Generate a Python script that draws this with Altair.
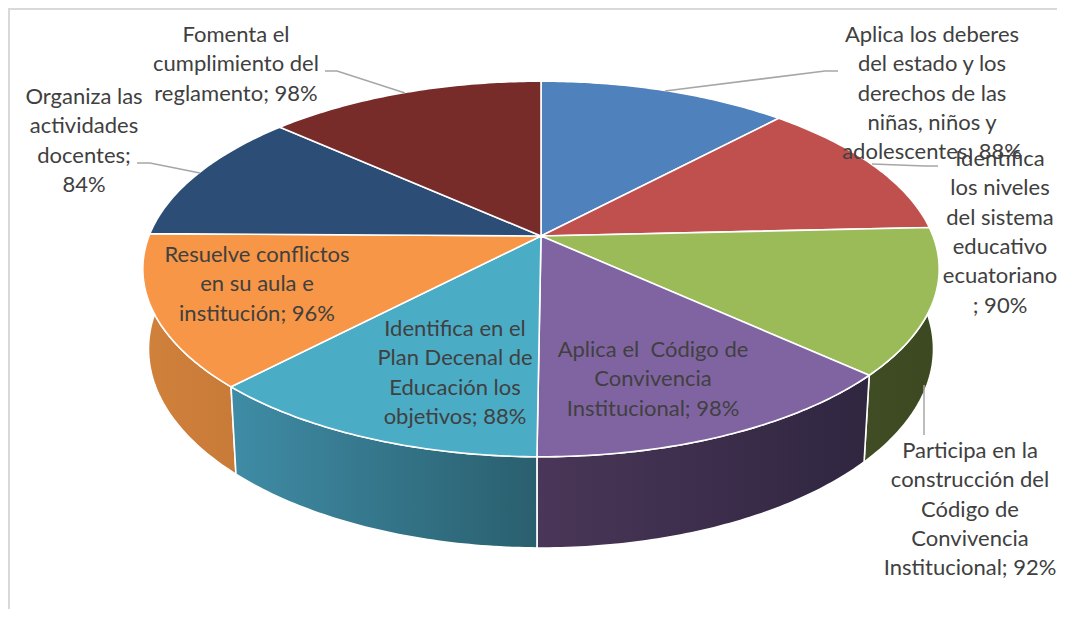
import math
import altair as alt
import pandas as pd

# ---- data ----
SLICES = ["Aplica los deberes", "Identifica niveles", "Participa", "Código",
          "Plan Decenal", "Resuelve", "Organiza", "Fomenta"]
VALUES = [88, 90, 92, 98, 88, 96, 84, 98]
LABELS = [
    ["Aplica los deberes", "del estado y los", "derechos de las", "niñas, niños y", "adolescentes; 88%"],
    ["Identifica", "los niveles", "del sistema", "educativo", "ecuatoriano", "; 90%"],
    ["Participa en la", "construcción del", "Código de", "Convivencia", "Institucional; 92%"],
    ["Aplica el\u00a0 Código de", "Convivencia", "Institucional; 98%"],
    ["Identifica en el", "Plan Decenal de", "Educación los", "objetivos; 88%"],
    ["Resuelve conflictos", "en su aula e", "institución; 96%"],
    ["Organiza las", "actividades", "docentes;", "84%"],
    ["Fomenta el", "cumplimiento del", "reglamento; 98%"],
]

# ---- styles and layout ----
TOP_COLOURS = ["#4f81bd", "#c0504d", "#9bbb59", "#8064a2", "#4bacc6", "#f79646", "#2c4d75", "#772c2a"]
WALL_COLOURS = [
    ("#3a5f8c", "#3a5f8c"), ("#8e3b39", "#8e3b39"), ("#404d24", "#3c4820"), ("#4a3658", "#2f2640"),
    ("#3f8ca6", "#2a5f6e"), ("#d0813b", "#c87a38"), ("#203a58", "#203a58"), ("#58201f", "#58201f"),
]
W, H = 1049, 601
OX, OY = 8, 8
CX, CY = 541, 236
S, T, K = 392, 182, 0.1755
BOTTOM_C, BOTTOM_V = 0.014, 79.6
TEXT = "#404040"
FONT = "Lato"
FONT_SIZE = 22
LEADING = 29.3
LABEL_ANCHORS = [(932, 35), (1000, 159), (970, 451), (653, 350), (455, 329), (257, 255), (84, 97), (236, 35)]
LEADERS = [
    [(838, 71), (825, 71), (665, 91)],
    [(938, 166), (925, 166), (872, 164)],
    [(924, 435), (924, 385)],
    [(137, 163), (150, 163), (200, 173)],
    [(325, 71), (337, 71), (405, 93)],
]


def project(theta, bottom=False):
    x, y = math.sin(theta), math.cos(theta)
    d = 1 + K * y + (BOTTOM_C if bottom else 0)
    v = BOTTOM_V if bottom else 0
    return CX + S * x / d, CY + (-T * y + v) / d


def arc_points(a0, a1, bottom=False):
    n = max(2, int(abs(a1 - a0) / math.radians(0.75)))
    return [project(a0 + (a1 - a0) * i / n, bottom) for i in range(n + 1)]


x_scale = alt.Scale(domain=[OX, OX + W], range=[0, W], nice=False, zero=False)
y_scale = alt.Scale(domain=[OY, OY + H], range=[0, H], nice=False, zero=False)


def polygon(points, fill, stroke="white", width=1.6):
    pts = points + [points[0]]
    df = pd.DataFrame({"px": [p[0] for p in pts], "py": [p[1] for p in pts], "i": range(len(pts))})
    return alt.Chart(df).mark_line(filled=True, fill=fill, stroke=stroke, strokeWidth=width,
                                   strokeJoin="round", interpolate="linear").encode(
        x=alt.X("px:Q", scale=x_scale, axis=None),
        y=alt.Y("py:Q", scale=y_scale, axis=None),
        order="i:Q",
    )


def gradient(c0, c1):
    return alt.Gradient(gradient="linear", x1=0, x2=1, y1=0, y2=0,
                        stops=[alt.GradientStop(offset=0, color=c0), alt.GradientStop(offset=1, color=c1)])


total = sum(VALUES)
edges = [0.0]
for v in VALUES:
    edges.append(edges[-1] + v / total * 2 * math.pi)

layers = []

# chart frame
frame_top = pd.DataFrame({"px": [OX, OX + W], "py": [OY + 1, OY + 1]})
frame_left = pd.DataFrame({"px": [OX + 1, OX + 1], "py": [OY, OY + H]})
for fr in (frame_top, frame_left):
    layers.append(alt.Chart(fr).mark_line(color="#d9d9d9", strokeWidth=2).encode(
        x=alt.X("px:Q", scale=x_scale, axis=None), y=alt.Y("py:Q", scale=y_scale, axis=None)))

# walls, drawn back to front, then the top faces
for idx in [0, 7, 1, 6, 2, 5, 3, 4]:
    a0, a1 = edges[idx], edges[idx + 1]
    pts = arc_points(a0, a1) + arc_points(a1, a0, True)
    layers.append(polygon(pts, gradient(*WALL_COLOURS[idx])))
for idx in range(len(VALUES)):
    a0, a1 = edges[idx], edges[idx + 1]
    pts = [(CX, CY)] + arc_points(a0, a1)
    layers.append(polygon(pts, TOP_COLOURS[idx]))

# leader lines
for leader in LEADERS:
    df = pd.DataFrame({"px": [p[0] for p in leader], "py": [p[1] for p in leader], "i": range(len(leader))})
    layers.append(alt.Chart(df).mark_line(color="#a6a6a6", strokeWidth=1.5).encode(
        x=alt.X("px:Q", scale=x_scale, axis=None),
        y=alt.Y("py:Q", scale=y_scale, axis=None),
        order="i:Q"))

# labels
rows = []
for lines, (ax, ay) in zip(LABELS, LABEL_ANCHORS):
    for j, line in enumerate(lines):
        rows.append({"px": ax, "py": ay + j * LEADING, "t": line})
layers.append(alt.Chart(pd.DataFrame(rows)).mark_text(
    font=FONT, fontSize=FONT_SIZE, color=TEXT, align="center", baseline="middle").encode(
    x=alt.X("px:Q", scale=x_scale, axis=None),
    y=alt.Y("py:Q", scale=y_scale, axis=None),
    text="t:N"))

chart = alt.layer(*layers).properties(
    width=W, height=H, padding=0, background="white",
    autosize=alt.AutoSizeParams(type="none"),
).configure_view(stroke=None)

chart.save("out.html", embed_options={"renderer": "svg", "actions": False})
